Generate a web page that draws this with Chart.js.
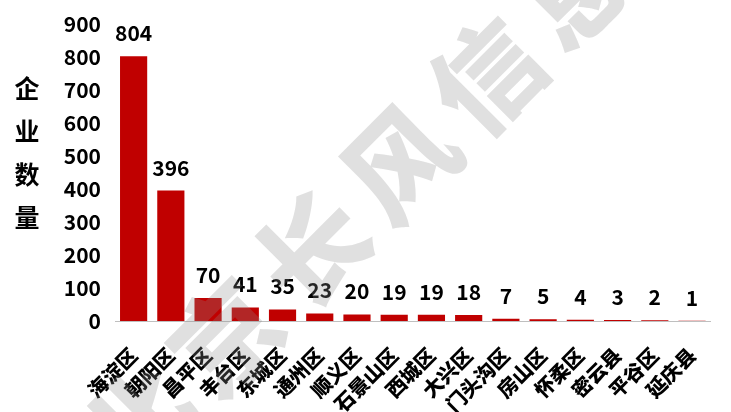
<!DOCTYPE html>
<html>
<head>
<meta charset="utf-8">
<script src="https://cdn.jsdelivr.net/npm/chart.js@4"></script>
<style>
  html, body { margin: 0; padding: 0; background: #fff; }
  #wrap { width: 731px; height: 412px; }
</style>
</head>
<body>
<div id="wrap"><canvas id="chart"></canvas></div>
<script>
const districts = ["海淀区", "朝阳区", "昌平区", "丰台区", "东城区", "通州区", "顺义区", "石景山区",
  "西城区", "大兴区", "门头沟区", "房山区", "怀柔区", "密云县", "平谷区", "延庆县"]
const companyCounts = [804, 396, 70, 41, 35, 23, 20, 19, 19, 18, 7, 5, 4, 3, 2, 1]
const yTitleChars = ["企", "业", "数", "量"]
const watermarkChars = ["北", "京", "长", "风", "信", "息"]

const FONT = "'Noto Sans CJK SC', 'Noto Sans', sans-serif"

// value labels above each bar
const valueLabels = {
  id: "valueLabels",
  afterDatasetsDraw(chart) {
    const ctx = chart.ctx
    const meta = chart.getDatasetMeta(0)
    ctx.save()
    ctx.font = "bold 21px " + FONT
    ctx.fillStyle = "#000"
    ctx.textAlign = "center"
    ctx.textBaseline = "middle"
    meta.data.forEach((bar, i) => {
      ctx.fillText(companyCounts[i], bar.x, bar.y - 23)
    })
    ctx.restore()
  }
}

// vertical axis title, one character per line
const yTitle = {
  id: "yTitle",
  afterDraw(chart) {
    const ctx = chart.ctx
    ctx.save()
    ctx.font = "bold 25px " + FONT
    ctx.fillStyle = "#000"
    ctx.textAlign = "center"
    ctx.textBaseline = "middle"
    yTitleChars.forEach((c, i) => ctx.fillText(c, 27, 88 + i * 43))
    ctx.restore()
  }
}

// diagonal watermark drawn over everything
const watermark = {
  id: "watermark",
  afterDraw(chart) {
    const ctx = chart.ctx
    ctx.save()
    ctx.font = "900 108px " + FONT
    ctx.fillStyle = "rgba(140,140,140,0.27)"
    ctx.textAlign = "center"
    ctx.textBaseline = "middle"
    watermarkChars.forEach((c, i) => {
      ctx.save()
      ctx.translate(139 + i * 87, 424 - i * 87)
      ctx.rotate(-Math.PI / 4)
      ctx.fillText(c, 0, 0)
      ctx.restore()
    })
    ctx.restore()
  }
}

new Chart(document.getElementById("chart"), {
  type: "bar",
  data: {
    labels: districts,
    datasets: [{
      data: companyCounts,
      backgroundColor: "#c00000",
      barPercentage: 0.73,
      categoryPercentage: 1
    }]
  },
  options: {
    responsive: true,
    maintainAspectRatio: false,
    animation: false,
    layout: { padding: { top: 0, left: 0, right: 0, bottom: 0 } },
    plugins: {
      legend: { display: false },
      tooltip: { enabled: false }
    },
    scales: {
      x: {
        grid: { display: false, drawTicks: false },
        border: { color: "#bfbfbf", width: 1 },
        ticks: {
          color: "#000",
          font: { family: FONT, size: 20, weight: "900" },
          maxRotation: 45,
          minRotation: 45,
          padding: 22
        },
        afterFit(scale) { scale.height = 91 }
      },
      y: {
        min: 0,
        max: 900,
        grid: { display: false, drawTicks: false },
        border: { display: false },
        ticks: {
          stepSize: 100,
          color: "#000",
          font: { family: FONT, size: 21, weight: "bold", lineHeight: 1 },
          padding: 14
        },
        afterFit(scale) { scale.width = 115 }
      }
    }
  },
  plugins: [valueLabels, yTitle, watermark]
})
</script>
</body>
</html>
